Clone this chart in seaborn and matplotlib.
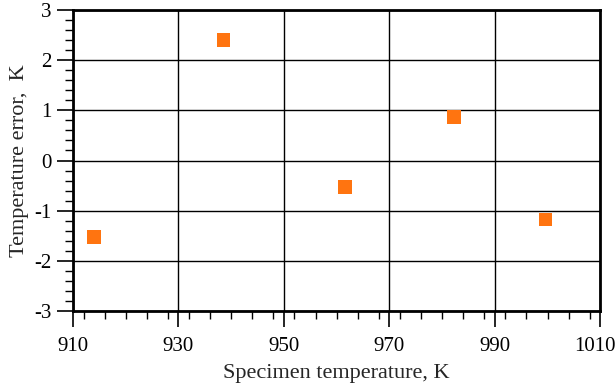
import matplotlib
matplotlib.use("Agg")
import matplotlib.pyplot as plt
import matplotlib.transforms as mtransforms
import seaborn as sns
import pandas as pd
from matplotlib.ticker import MultipleLocator

specimen_temp = [914.0, 938.5, 961.6, 982.3, 999.6]
temp_error = [-1.52, 2.40, -0.53, 0.87, -1.18]
x_ticks = [910, 930, 950, 970, 990, 1010]
y_ticks = [-3, -2, -1, 0, 1, 2, 3]

df = pd.DataFrame({"x": specimen_temp, "y": temp_error})

sns.set_style("white")
plt.rcParams["font.family"] = ["Liberation Serif", "DejaVu Serif"]
plt.rcParams["axes.unicode_minus"] = False

fig = plt.figure(figsize=(6.16, 3.84), dpi=100)
ax = fig.add_axes([0.1185, 0.19, 0.856, 0.784])

sns.scatterplot(data=df, x="x", y="y", ax=ax, marker="s", s=95,
                color="#ff7410", edgecolor="none", zorder=3)

ax.set_xlim(910, 1010)
ax.set_ylim(-3, 3)
ax.set_xticks(x_ticks)
ax.set_yticks(y_ticks)
ax.xaxis.set_minor_locator(MultipleLocator(4))
ax.yaxis.set_minor_locator(MultipleLocator(0.2))
ax.grid(True, which="major", color="black", linewidth=1.0)
ax.set_axisbelow(True)
for s in ax.spines.values():
    s.set_linewidth(2.0)
    s.set_color("black")
ax.tick_params(which="major", direction="out", length=11.5, width=1.2,
               colors="black", labelsize=15)
ax.tick_params(axis="x", which="major", pad=7)
ax.tick_params(axis="y", which="major", pad=4)
ax.tick_params(which="minor", direction="out", length=6, width=1.0, colors="black")
ax.tick_params(axis="both", which="both", left=True, bottom=True)
ax.set_xlabel("Specimen temperature, K", fontsize=16, labelpad=6)
ax.set_ylabel("Temperature error,  K", fontsize=16, labelpad=4)

# nudge the last x tick label so it stays inside the canvas
fig.canvas.draw()
last = ax.get_xticklabels()[-1]
last.set_transform(last.get_transform() +
                   mtransforms.ScaledTranslation(-5 / 100, 0, fig.dpi_scale_trans))

fig.savefig("out.png", dpi=100)
